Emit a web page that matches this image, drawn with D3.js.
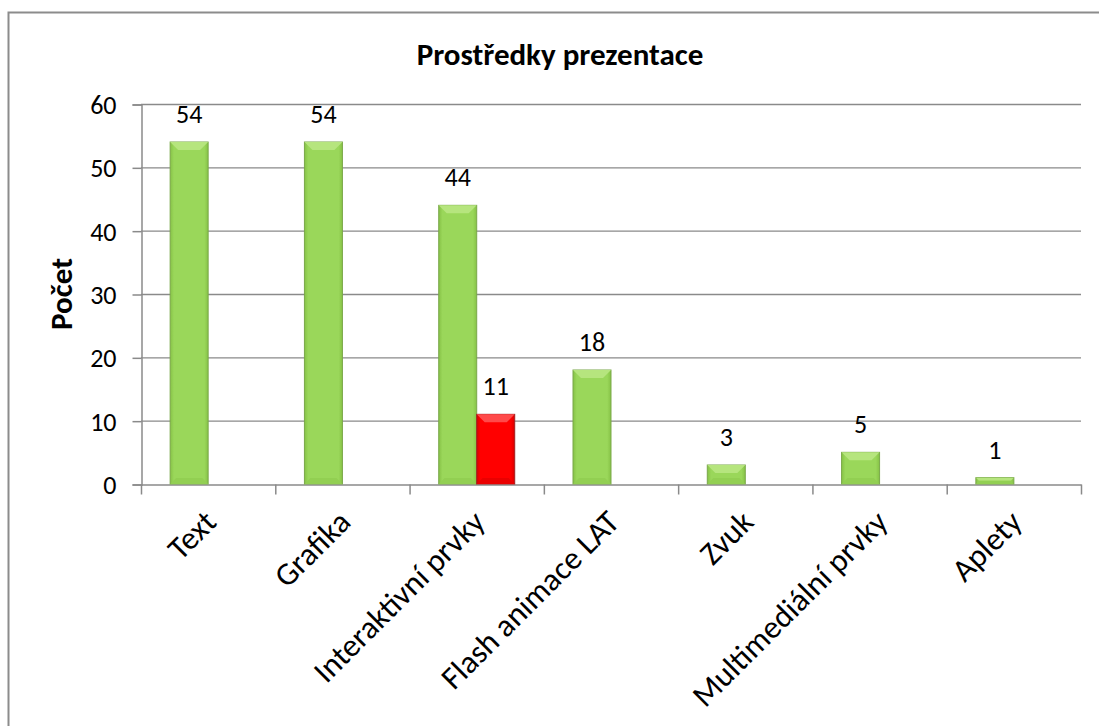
<!DOCTYPE html>
<html>
<head>
<meta charset="utf-8">
<script src="https://cdn.jsdelivr.net/npm/d3@7"></script>
<style>
  body { margin: 0; background: #fff; }
  text { font-family: Carlito, Calibri, "Liberation Sans", sans-serif; fill: #000; }
</style>
</head>
<body>
<script>
// data
var categories = ["Text", "Grafika", "Interaktivní prvky", "Flash animace LAT", "Zvuk", "Multimediální prvky", "Aplety"];
var greenValues = [54, 54, 44, 18, 3, 5, 1];
var redValues = [null, null, 11, null, null, null, null];
var yTicks = [0, 10, 20, 30, 40, 50, 60];

(function () {
var W = 1099, H = 726;
var plotLeft = 141, plotRight = 1081, plotTop = 104, plotBottom = 484;

var svg = d3.select("body").append("svg")
    .attr("width", W)
    .attr("height", H);

// outer frame (cut off at right and bottom like the original)
svg.append("rect")
    .attr("x", 8.5).attr("y", 12.5)
    .attr("width", 1200).attr("height", 800)
    .attr("fill", "none")
    .attr("stroke", "#8c8c8c")
    .attr("stroke-width", 2);

var x = d3.scaleBand().domain(categories).range([plotLeft, plotRight]).paddingInner(0).paddingOuter(0);
var inner = d3.scaleBand().domain(["g", "r"]).range([0, x.bandwidth()]).paddingInner(0).paddingOuter(0.767);
var y = d3.scaleLinear().domain([0, 60]).range([plotBottom, plotTop]);

// gridlines
svg.append("g").selectAll("line")
    .data(yTicks.slice(1))
    .enter().append("line")
    .attr("x1", plotLeft).attr("x2", plotRight)
    .attr("y1", function (d) { return y(d) + 0.5; })
    .attr("y2", function (d) { return y(d) + 0.5; })
    .attr("stroke", "#8a8a8a")
    .attr("stroke-width", 1.3);

// y axis
var yAxis = d3.axisLeft(y).tickValues(yTicks).tickSize(9).tickPadding(16);
var gy = svg.append("g").attr("transform", "translate(" + (plotLeft + 0.5) + ",0.5)").call(yAxis);
gy.selectAll("path, line").attr("stroke", "#8a8a8a").attr("stroke-width", 1.5);
gy.selectAll("text").style("font-size", "26px").attr("dy", "0.34em");

// x axis
var xAxis = d3.axisBottom(x).tickSize(0).tickFormat("");
var gx = svg.append("g").attr("transform", "translate(0," + (plotBottom + 0.5) + ")").call(xAxis);
gx.select("path").attr("stroke", "#8a8a8a").attr("stroke-width", 1.5);
var bounds = categories.map(function (c) { return x(c); }).concat([plotRight]);
gx.selectAll(".bound").data(bounds).enter().append("line")
    .attr("class", "bound")
    .attr("x1", function (d) { return d + 0.5; }).attr("x2", function (d) { return d + 0.5; })
    .attr("y1", 0).attr("y2", 10)
    .attr("stroke", "#8a8a8a").attr("stroke-width", 1.5);

// category labels, rotated
svg.append("g").selectAll("text")
    .data(categories)
    .enter().append("text")
    .attr("transform", function (d) {
        return "translate(" + (x(d) + x.bandwidth() / 2 + 10) + "," + (plotBottom + 40) + ") rotate(-45)";
    })
    .attr("text-anchor", "end")
    .style("font-size", "32px")
    .text(function (d) { return d; });

// gradients for bevelled bars
var defs = svg.append("defs");
function sideGrad(id, edge, mid) {
    var g = defs.append("linearGradient").attr("id", id).attr("x1", 0).attr("x2", 1).attr("y1", 0).attr("y2", 0);
    g.append("stop").attr("offset", "0").attr("stop-color", edge);
    g.append("stop").attr("offset", "0.1").attr("stop-color", mid);
    g.append("stop").attr("offset", "0.9").attr("stop-color", mid);
    g.append("stop").attr("offset", "1").attr("stop-color", edge);
}
sideGrad("gGreen", "#86c246", "#9ad75a");
sideGrad("gRed", "#d80000", "#ff0000");

function drawBars(values, key, fill, topColor, botColor, stroke) {
    var data = [];
    values.forEach(function (v, i) { if (v !== null) data.push({ c: categories[i], v: v }); });
    var bw = inner.bandwidth();
    var g = svg.append("g");
    var bar = g.selectAll("g").data(data).enter().append("g")
        .attr("transform", function (d) { return "translate(" + (x(d.c) + inner(key)) + ",0)"; });
    bar.append("rect")
        .attr("x", 0).attr("width", bw)
        .attr("y", function (d) { return y(d.v); })
        .attr("height", function (d) { return y(0) - y(d.v); })
        .attr("fill", fill)
        .attr("stroke", stroke).attr("stroke-width", 1);
    // top bevel
    bar.append("path")
        .attr("d", function (d) {
            var h = Math.min(8, (y(0) - y(d.v)) / 2);
            var t = y(d.v);
            return "M0," + t + "L" + bw + "," + t + "L" + (bw - h) + "," + (t + h) + "L" + h + "," + (t + h) + "Z";
        })
        .attr("fill", topColor);
    // bottom bevel
    bar.append("path")
        .attr("d", function (d) {
            var h = Math.min(6, (y(0) - y(d.v)) / 2);
            var b = y(0);
            return "M0," + b + "L" + bw + "," + b + "L" + (bw - h) + "," + (b - h) + "L" + h + "," + (b - h) + "Z";
        })
        .attr("fill", botColor);
    bar.append("text")
        .attr("x", bw / 2)
        .attr("y", function (d) { return y(d.v) - 19; })
        .attr("text-anchor", "middle")
        .style("font-size", "26px")
        .text(function (d) { return d.v; });
}
drawBars(greenValues, "g", "url(#gGreen)", "#b6e57e", "#92cf52", "#7aa84a");
drawBars(redValues, "r", "url(#gRed)", "#ff4a4a", "#ea0000", "#a02020");

// title
svg.append("text")
    .attr("x", 560).attr("y", 65)
    .attr("text-anchor", "middle")
    .style("font-size", "31px").style("font-weight", "bold")
    .text("Prostředky prezentace");

// y axis title
svg.append("text")
    .attr("transform", "translate(72,294) rotate(-90)")
    .attr("text-anchor", "middle")
    .style("font-size", "31px").style("font-weight", "bold")
    .text("Počet");
})();
</script>
</body>
</html>
